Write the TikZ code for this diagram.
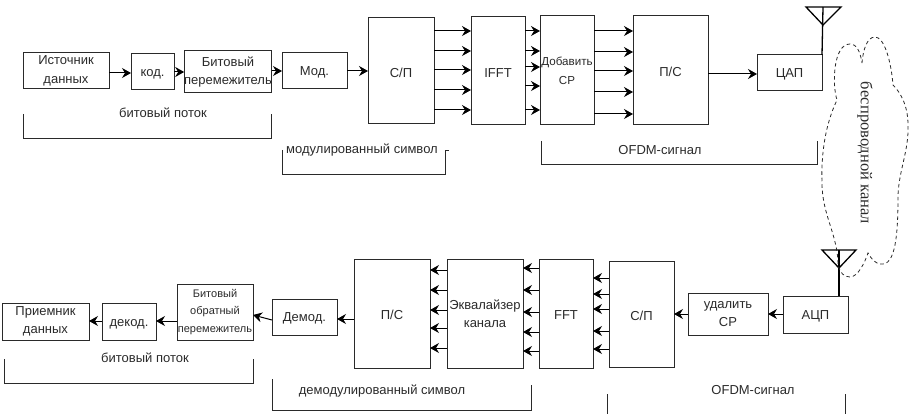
\documentclass[tikz,border=0pt]{standalone}
\usepackage{fontspec}
\setmainfont{Liberation Sans}
\newfontfamily\serifcyr{Liberation Serif}
\usetikzlibrary{arrows.meta}
\definecolor{ink}{HTML}{2A2A2A}
\tikzset{
  blockbox/.style={draw=ink,line width=1pt,inner sep=0pt,outer sep=0pt,align=center,text=ink,font=\fontsize{13}{18.5}\selectfont,execute at begin node={\rule{0pt}{0.95em}}},
  smalltext/.style={font=\fontsize{11}{17.5}\selectfont},
  midtext/.style={font=\fontsize{11.6}{19}\selectfont},
  conn/.style={draw=black,line width=1pt,-{Stealth[length=9pt,width=10pt,inset=3pt]}},
  bracketline/.style={draw=ink,line width=0.9pt},
  lab/.style={text=ink,inner sep=0pt,font=\fontsize{13}{15}\selectfont},
  ant/.style={draw=black,line width=1.3pt},
}
\newcommand{\bx}[7][]{%
  \pgfmathsetmacro{\bw}{#5-#3}\pgfmathsetmacro{\bh}{#6-#4}%
  \pgfmathsetmacro{\bcx}{(#5+#3)/2}\pgfmathsetmacro{\bcy}{(#6+#4)/2}%
  \node[blockbox,#1,minimum width=\bw pt,minimum height=\bh pt] (#2) at (\bcx,\bcy) {#7};}
\begin{document}
\begin{tikzpicture}[x=1pt,y=-1pt]
\useasboundingbox (0,0) rectangle (909,414);
% upper row
\bx{src}{23}{53}{109}{89}{Источник\\данных}
\bx{kod}{131}{54}{174}{90}{код.}
\bx{bint}{185}{51}{271}{93}{Битовый\\перемежитель}
\bx{mod}{282}{53}{347}{89}{Мод.}
\bx{sp}{368}{18}{434}{124}{С/П}
\bx{ifft}{471}{17}{525}{125}{IFFT}
\bx[midtext]{cp}{540}{16}{594}{125}{Добавить\\СР}
\bx{ps}{633}{16}{708}{125}{П/С}
\bx{dac}{757}{55}{822}{91}{ЦАП}
\draw[conn] (src.east |- 0,73) -- (kod.west |- 0,73);
\draw[conn] (kod.east |- 0,72) -- (bint.west |- 0,72);
\draw[conn] (bint.east |- 0,71) -- (mod.west |- 0,71);
\draw[conn] (mod.east |- 0,71) -- (sp.west |- 0,71);
\foreach \y in {31,51,70,90,110} \draw[conn] (sp.east |- 0,\y) -- (ifft.west |- 0,\y);
\foreach \y in {31,51,67,86,110} \draw[conn] (ifft.east |- 0,\y) -- (cp.west |- 0,\y);
\foreach \y in {31,52,71,92,114} \draw[conn] (cp.east |- 0,\y) -- (ps.west |- 0,\y);
\draw[conn] (ps.east |- 0,74) -- (dac.west |- 0,74);
% upper antenna
\coordinate (ta) at (823,25);
\coordinate (tl) at (806,7);
\coordinate (tr) at (841,7);
\coordinate (tm) at (823,7);
\draw[ant] (tl) -- (tr) -- (ta) -- cycle;
\draw[ant] (tm) -- (dac.north east);
% upper brackets
\draw[bracketline] (23,114) -- (23,138) -- (271,138) -- (271,114);
\node[lab] (t1) at (163,113) {битовый поток};
\draw[bracketline] (282,150) -- (282,174) -- (445,174) -- (445,150) -- (449,150);
\node[lab] (t2) at (362,150) {модулированный символ};
\draw[bracketline] (541,141) -- (541,164) -- (817,164) -- (817,141);
\node[lab] (t3) at (660,150) {OFDM-сигнал};
% lower row
\bx{sink}{2}{303}{89}{340}{Приемник\\данных}
\bx{dek}{102}{303}{156}{340}{декод.}
\bx[smalltext]{bdei}{177}{284}{253}{340}{Битовый\\обратный\\перемежитель}
\bx{dem}{272}{299}{337}{335}{Демод.}
\bx{ps2}{354}{259}{430}{368}{П/С}
\bx{eq}{447}{259}{523}{368}{Эквалайзер\\канала}
\bx{fft}{539}{259}{593}{368}{FFT}
\bx{sp2}{609}{261}{674}{367}{С/П}
\bx{rm}{688}{293}{768}{335}{удалить\\СР}
\bx{adc}{783}{296}{848}{333}{АЦП}
\draw[conn] (adc.west |- 0,314) -- (rm.east |- 0,314);
\draw[conn] (rm.west |- 0,314) -- (sp2.east |- 0,314);
\foreach \y in {278,294,309,331,349} \draw[conn] (sp2.west |- 0,\y) -- (fft.east |- 0,\y);
\foreach \y in {268,290,312,332,351} \draw[conn] (fft.west |- 0,\y) -- (eq.east |- 0,\y);
\foreach \y in {270,290,310,328,348} \draw[conn] (eq.west |- 0,\y) -- (ps2.east |- 0,\y);
\draw[conn] (ps2.west |- 0,319) -- (dem.east |- 0,319);
\draw[conn] (dem.west |- 0,320) -- (bdei.east |- 0,315);
\draw[conn] (bdei.west |- 0,321) -- (dek.east |- 0,321);
\draw[conn] (dek.west |- 0,321) -- (sink.east |- 0,321);
% lower antenna
\coordinate (ra) at (839,268);
\coordinate (rl) at (822,250);
\coordinate (rr) at (856,250);
\coordinate (rm2) at (839,250);
\draw[ant] (rl) -- (rr) -- (ra) -- cycle;
\draw[ant] (rm2) -- (rm2 |- adc.north);
% lower brackets
\draw[bracketline] (4,359) -- (4,383) -- (253,383) -- (253,359);
\node[lab] (t4) at (145,358) {битовый поток};
\draw[bracketline] (272,379) -- (272,410) -- (531,410) -- (531,385);
\node[lab] (t5) at (382,391) {демодулированный символ};
\draw[bracketline] (607,394) -- (607,414);
\draw[bracketline] (845,394) -- (845,414);
\node[lab] (t6) at (753,390) {OFDM-сигнал};
% cloud
\draw[draw=ink,line width=0.8pt,dash pattern=on 3.5pt off 3pt]
 (862,63) .. controls (863,50) and (867,37) .. (875,37)
 .. controls (884,37) and (891,60) .. (893,85)
 .. controls (900,92) and (908,105) .. (908,125)
 .. controls (909,150) and (899,170) .. (898,195)
 .. controls (898,225) and (897,263) .. (883,264)
 .. controls (875,265) and (871,258) .. (868,253)
 .. controls (865,262) and (858,277) .. (850,277)
 .. controls (844,277) and (840,273) .. (838,265)
 .. controls (838,235) and (822,215) .. (822,183)
 .. controls (821,155) and (825,125) .. (837,100)
 .. controls (832,85) and (833,44) .. (850,44)
 .. controls (856,44) and (860,50) .. (862,63);
\node[text=ink,inner sep=0pt,rotate=-90,font=\serifcyr\fontsize{16.5}{18}\selectfont] (t7) at (865,153) {беспроводной канал};
\end{tikzpicture}
\end{document}
